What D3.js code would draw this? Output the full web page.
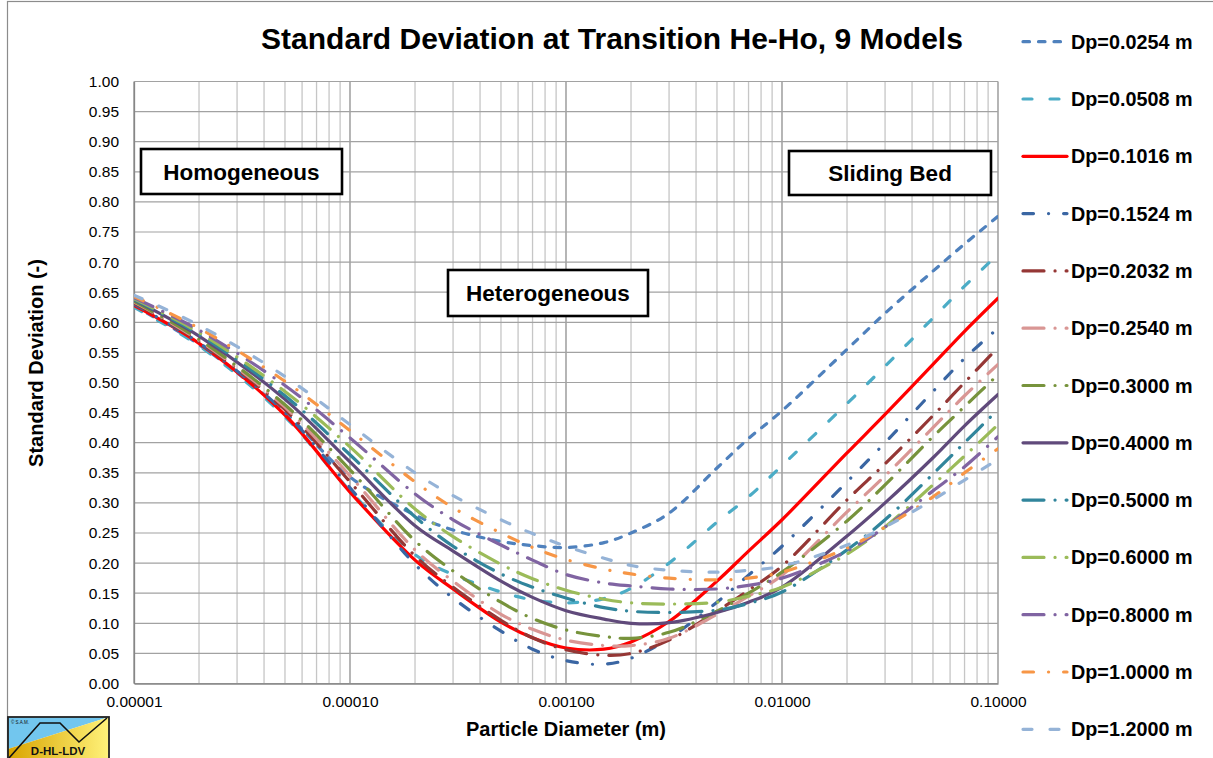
<!DOCTYPE html>
<html>
<head>
<meta charset="utf-8">
<script src="https://cdn.jsdelivr.net/npm/d3@7"></script>
<style>
  body { margin: 0; background: #fff; }
  svg { display: block; font-family: Arial, "Liberation Sans", sans-serif; }
</style>
</head>
<body>
<div id="chart"></div>
<script>
// Particle diameters (m) where the curves were read
const particleDiameter = [1e-5, 2e-5, 5e-5, 1e-4, 2e-4, 3e-4, 5e-4, 7e-4, 1e-3, 1.5e-3,
                          2e-3, 3e-3, 5e-3, 7e-3, 1e-2, 2e-2, 3e-2, 5e-2, 7e-2, 1e-1];

// Standard deviation per pipe diameter
const sd0254  = [0.627, 0.563, 0.450, 0.343, 0.280, 0.255, 0.236, 0.229, 0.226, 0.234, 0.250, 0.283, 0.358, 0.407, 0.453, 0.555, 0.615, 0.685, 0.730, 0.776];
const sd0508  = [0.625, 0.561, 0.443, 0.320, 0.214, 0.181, 0.152, 0.139, 0.134, 0.141, 0.158, 0.200, 0.268, 0.310, 0.362, 0.465, 0.527, 0.607, 0.660, 0.713];
const sd1016  = [0.628, 0.565, 0.446, 0.318, 0.205, 0.157, 0.102, 0.076, 0.059, 0.057, 0.069, 0.103, 0.170, 0.220, 0.272, 0.383, 0.447, 0.530, 0.585, 0.640];
const sd1524  = [0.630, 0.566, 0.450, 0.325, 0.198, 0.142, 0.087, 0.057, 0.038, 0.032, 0.042, 0.075, 0.135, 0.180, 0.228, 0.335, 0.400, 0.485, 0.540, 0.590];
const sd2032  = [0.632, 0.568, 0.455, 0.335, 0.212, 0.160, 0.105, 0.076, 0.056, 0.047, 0.050, 0.072, 0.120, 0.155, 0.195, 0.305, 0.365, 0.445, 0.500, 0.558];
const sd2540  = [0.634, 0.570, 0.459, 0.345, 0.222, 0.170, 0.115, 0.090, 0.072, 0.063, 0.063, 0.075, 0.115, 0.145, 0.180, 0.285, 0.345, 0.425, 0.478, 0.530];
const sd3000  = [0.635, 0.572, 0.463, 0.355, 0.237, 0.187, 0.135, 0.108, 0.089, 0.078, 0.075, 0.085, 0.120, 0.150, 0.185, 0.270, 0.330, 0.410, 0.460, 0.513];
const sd4000  = [0.637, 0.577, 0.472, 0.368, 0.262, 0.220, 0.170, 0.143, 0.121, 0.107, 0.100, 0.101, 0.118, 0.135, 0.160, 0.245, 0.300, 0.375, 0.428, 0.480];
const sd5000  = [0.638, 0.580, 0.478, 0.380, 0.277, 0.228, 0.182, 0.160, 0.142, 0.126, 0.120, 0.118, 0.122, 0.133, 0.152, 0.222, 0.272, 0.348, 0.400, 0.455];
const sd6000  = [0.639, 0.583, 0.485, 0.393, 0.290, 0.244, 0.198, 0.174, 0.155, 0.140, 0.134, 0.132, 0.135, 0.145, 0.160, 0.215, 0.260, 0.330, 0.378, 0.430];
const sd8000  = [0.641, 0.587, 0.495, 0.408, 0.315, 0.272, 0.230, 0.205, 0.181, 0.167, 0.162, 0.157, 0.157, 0.163, 0.175, 0.220, 0.260, 0.320, 0.360, 0.410];
const sd10000 = [0.643, 0.590, 0.502, 0.420, 0.335, 0.292, 0.250, 0.226, 0.206, 0.190, 0.182, 0.175, 0.172, 0.175, 0.185, 0.225, 0.260, 0.310, 0.350, 0.390];
const sd12000 = [0.645, 0.595, 0.510, 0.430, 0.350, 0.312, 0.272, 0.249, 0.228, 0.208, 0.196, 0.188, 0.185, 0.188, 0.195, 0.230, 0.260, 0.305, 0.338, 0.372];

const seriesNames = ["Dp=0.0254 m", "Dp=0.0508 m", "Dp=0.1016 m", "Dp=0.1524 m", "Dp=0.2032 m",
                     "Dp=0.2540 m", "Dp=0.3000 m", "Dp=0.4000 m", "Dp=0.5000 m", "Dp=0.6000 m",
                     "Dp=0.8000 m", "Dp=1.0000 m", "Dp=1.2000 m"];
const seriesValues = [sd0254, sd0508, sd1016, sd1524, sd2032, sd2540, sd3000,
                      sd4000, sd5000, sd6000, sd8000, sd10000, sd12000];

const xTickValues = [1e-5, 1e-4, 1e-3, 1e-2, 1e-1];
const xTickLabels = ["0.00001", "0.00010", "0.00100", "0.01000", "0.10000"];
const yTickLabels = ["0.00", "0.05", "0.10", "0.15", "0.20", "0.25", "0.30", "0.35", "0.40", "0.45",
                     "0.50", "0.55", "0.60", "0.65", "0.70", "0.75", "0.80", "0.85", "0.90", "0.95", "1.00"];

// line styles (Excel like)
const colors = ["#4F81BD", "#4BACC6", "#FF0000", "#3A66A3", "#953735", "#D99694", "#77933C",
                "#604A7B", "#31859C", "#9BBB59", "#8064A2", "#F79646", "#95B3D7"];
const dashes = ["6.5,9", "9,18", null, "10.5,15,0.1,15", "21,11,0.1,11", "21,11,0.1,11", "21,11,0.1,11",
                null, "21,11,0.1,11", "21,11,0.1,11", "21,11,0.1,11", "10.5,15,0.1,15", "9,18"];

const width = 1213, height = 758;
const plot = { left: 134, right: 998, top: 81.5, bottom: 683.5 };

const svg = d3.select("#chart").append("svg")
    .attr("width", width)
    .attr("height", height);

svg.append("rect").attr("width", width).attr("height", height).attr("fill", "#fff");

// outer chart border
svg.append("rect")
    .attr("x", 7.5).attr("y", 1.5)
    .attr("width", width + 20).attr("height", height + 20)
    .attr("fill", "none").attr("stroke", "#8c8c8c").attr("stroke-width", 1.2);

const x = d3.scaleLog().domain([1e-5, 0.1]).range([plot.left, plot.right]);
const y = d3.scaleLinear().domain([0, 1]).range([plot.bottom, plot.top]);

// grid
svg.append("g").selectAll("line")
    .data(x.ticks())
    .enter().append("line")
    .attr("x1", d => x(d)).attr("x2", d => x(d))
    .attr("y1", plot.top).attr("y2", plot.bottom)
    .attr("stroke", d => xTickValues.some(v => Math.abs(v - d) / v < 1e-6) ? "#8e8e8e" : "#c6c6c6")
    .attr("stroke-width", 1.3);

svg.append("g").selectAll("line")
    .data(yTickLabels.map(Number))
    .enter().append("line")
    .attr("x1", plot.left).attr("x2", plot.right)
    .attr("y1", d => y(d)).attr("y2", d => y(d))
    .attr("stroke", "#a2a2a2")
    .attr("stroke-width", 1.2);

// axes
const yAxis = svg.append("g")
    .attr("transform", `translate(${plot.left},0)`)
    .call(d3.axisLeft(y).tickValues(yTickLabels.map(Number)).tickFormat((d, i) => yTickLabels[i])
        .tickSize(0).tickPadding(15));
yAxis.select(".domain").attr("stroke", "#868686").attr("stroke-width", 1.3);
yAxis.selectAll("text").attr("font-size", 15.5).attr("fill", "#000")
    .attr("font-family", "Arial, 'Liberation Sans', sans-serif");

const xAxis = svg.append("g")
    .attr("transform", `translate(0,${plot.bottom})`)
    .call(d3.axisBottom(x).tickValues(xTickValues).tickFormat((d, i) => xTickLabels[i])
        .tickSize(0).tickPadding(12));
xAxis.select(".domain").attr("stroke", "#868686").attr("stroke-width", 1.3);
xAxis.selectAll("text").attr("font-size", 15.5).attr("fill", "#000")
    .attr("font-family", "Arial, 'Liberation Sans', sans-serif");

// curves
const line = d3.line()
    .x(d => x(d[0]))
    .y(d => y(d[1]))
    .curve(d3.curveCatmullRom.alpha(0.5));

svg.append("defs").append("clipPath").attr("id", "clip")
    .append("rect")
    .attr("x", plot.left).attr("y", plot.top)
    .attr("width", plot.right - plot.left).attr("height", plot.bottom - plot.top);

svg.append("g").attr("clip-path", "url(#clip)")
    .selectAll("path")
    .data(seriesValues)
    .enter().append("path")
    .attr("d", vals => line(vals.map((v, i) => [particleDiameter[i], v])))
    .attr("fill", "none")
    .attr("stroke", (d, i) => colors[i])
    .attr("stroke-width", 3.2)
    .attr("stroke-linecap", "round")
    .attr("stroke-dasharray", (d, i) => dashes[i]);

// regime boxes
const boxes = [
  { text: "Homogeneous", x: 141, y: 149, w: 201, h: 45 },
  { text: "Heterogeneous", x: 448, y: 270, w: 200, h: 46 },
  { text: "Sliding Bed", x: 789, y: 151, w: 202, h: 44 }
];
const boxG = svg.append("g").selectAll("g").data(boxes).enter().append("g");
boxG.append("rect")
    .attr("x", d => d.x).attr("y", d => d.y)
    .attr("width", d => d.w).attr("height", d => d.h)
    .attr("fill", "#fff").attr("stroke", "#000").attr("stroke-width", 2.6);
boxG.append("text")
    .attr("x", d => d.x + d.w / 2).attr("y", d => d.y + d.h / 2 + 8)
    .attr("text-anchor", "middle")
    .attr("font-size", 22.5).attr("font-weight", "bold")
    .text(d => d.text);

// title
svg.append("text")
    .attr("x", 612).attr("y", 49)
    .attr("text-anchor", "middle")
    .attr("font-size", 30).attr("font-weight", "bold")
    .text("Standard Deviation at Transition He-Ho, 9 Models");

// axis titles
svg.append("text")
    .attr("x", 566).attr("y", 736)
    .attr("text-anchor", "middle")
    .attr("font-size", 20).attr("font-weight", "bold")
    .text("Particle Diameter (m)");

svg.append("text")
    .attr("transform", "translate(43,363) rotate(-90)")
    .attr("text-anchor", "middle")
    .attr("font-size", 20).attr("font-weight", "bold")
    .text("Standard Deviation (-)");

// legend
const legend = svg.append("g").selectAll("g")
    .data(seriesNames)
    .enter().append("g")
    .attr("transform", (d, i) => `translate(1022,${41.7 + i * 57.3})`);
legend.append("line")
    .attr("x1", 1).attr("x2", 45)
    .attr("stroke", (d, i) => colors[i])
    .attr("stroke-width", 3.2)
    .attr("stroke-linecap", "round")
    .attr("stroke-dasharray", (d, i) => dashes[i]);
legend.append("text")
    .attr("x", 49).attr("y", 7)
    .attr("font-size", 19.8).attr("font-weight", "bold")
    .text(d => d);

// logo bottom-left
const logo = svg.append("g");
const grad = svg.select("defs").append("linearGradient").attr("id", "gold")
    .attr("x1", "0%").attr("x2", "100%");
grad.append("stop").attr("offset", "0%").attr("stop-color", "#D9A400");
grad.append("stop").attr("offset", "100%").attr("stop-color", "#FFF27A");
logo.append("polygon").attr("points", "8,717 109,717 8,749").attr("fill", "#72C6EE");
logo.append("polygon").attr("points", "8,749 109,717 109,760 8,760").attr("fill", "url(#gold)");
logo.append("polyline").attr("points", "9,758 40,723 60,723 79,742 107,718")
    .attr("fill", "none").attr("stroke", "#111").attr("stroke-width", 1.6);
logo.append("rect").attr("x", 8).attr("y", 717).attr("width", 101).attr("height", 45)
    .attr("fill", "none").attr("stroke", "#222").attr("stroke-width", 1.8);
logo.append("text").attr("x", 58).attr("y", 755).attr("text-anchor", "middle")
    .attr("font-size", 11.5).attr("font-weight", "bold").attr("fill", "#111").text("D-HL-LDV");
logo.append("text").attr("x", 11).attr("y", 724)
    .attr("font-size", 4.5).attr("fill", "#111").text("© S.A.M.");
</script>
</body>
</html>
